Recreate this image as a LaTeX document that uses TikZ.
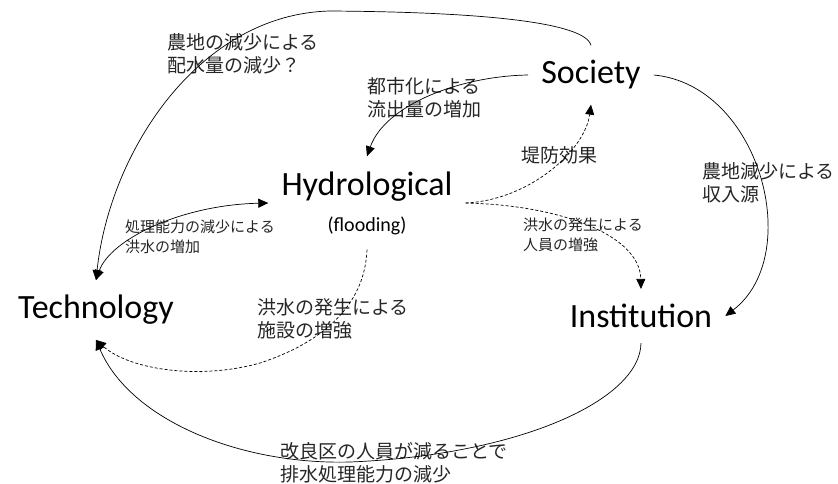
\documentclass[tikz,border=0pt]{standalone}
\usepackage{fontspec}
\setmainfont{Carlito}
\newfontfamily\jpfont{Noto Sans CJK JP}
\usetikzlibrary{arrows.meta}

\begin{document}
\begin{tikzpicture}[x=1pt,y=-1pt,
  factor/.style={font=\fontsize{34}{40}\selectfont, inner xsep=13pt, inner ysep=15pt},
  lbl/.style={font=\jpfont\fontsize{19}{23}\selectfont, text=black!85, anchor=west, align=left, inner sep=0pt},
  lblsmall/.style={lbl, font=\jpfont\fontsize{15}{20}\selectfont},
  link/.style={line width=0.7pt, -{Triangle[length=10pt,width=9pt]}},
  dlink/.style={link, dashed, dash pattern=on 3pt off 2pt}]
\useasboundingbox (0,0) rectangle (838,483);

% the four parts
\node[factor] (society) at (591,75) {Society};
\node[factor, align=center] (hydro) at (367,203) {Hydrological\\[-4pt]{\fontsize{20}{24}\selectfont (flooding)}};
\node[factor] (tech) at (96,310) {Technology};
\node[factor] (inst) at (641,316) {Institution};

% labels
\node[lbl] (lblfarm) at (167,54) {農地の減少による\\配水量の減少？};
\node[lbl] (lblurban) at (367,98) {都市化による\\流出量の増加};
\node[lbl] (lbllevee) at (521,155) {堤防効果};
\node[lbl] (lblincome) at (702,183) {農地減少による\\収入源};
\node[lblsmall] (lblcapa) at (125,237) {処理能力の減少による\\洪水の増加};
\node[lblsmall] (lblstaff) at (523,235) {洪水の発生による\\人員の増強};
\node[lbl] (lblfacil) at (257,319) {洪水の発生による\\施設の増強};
\node[lbl] (lbldrain) at (280,463) {改良区の人員が減ることで\\排水処理能力の減少};

% links
\draw[link] (society.north) .. controls (585,22) and (480,12) .. (330,11)
  .. controls (200,14) and (110,150) .. (tech.north);
\draw[link] (society.west) .. controls (460,76) and (385,105) .. (hydro.north);
\draw[link] (society.east) .. controls (760,85) and (805,255) .. (inst.east);
\draw[dlink] (hydro.east) .. controls (530,200) and (585,150) .. (society.south);
\draw[dlink] (hydro.east) .. controls (560,205) and (640,235) .. (inst.north);
\draw[link, {Triangle[length=10pt,width=9pt]}-{Triangle[length=10pt,width=9pt]}]
  (tech.north) .. controls (110,240) and (180,205) .. (hydro.west);
\draw[dlink] (hydro.south) .. controls (365,300) and (330,340) .. (260,363)
  .. controls (200,380) and (130,370) .. (tech.south);
\draw[link] (inst.south) .. controls (640,400) and (520,455) .. (350,462)
  .. controls (240,465) and (130,420) .. (tech.south);
\end{tikzpicture}
\end{document}
